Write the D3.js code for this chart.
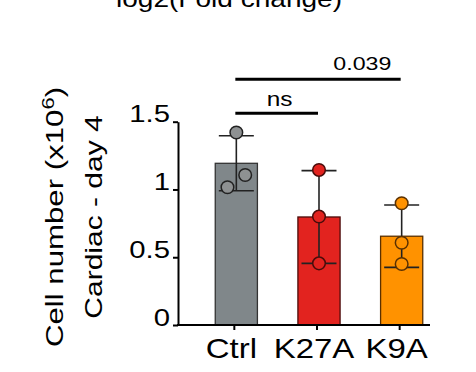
<!DOCTYPE html>
<html>
<head>
<meta charset="utf-8">
<script src="https://cdn.jsdelivr.net/npm/d3@7"></script>
<style>
  body { margin: 0; background: #fff; }
  text { font-family: "Liberation Sans", Arial, sans-serif; fill: #000; }
</style>
</head>
<body>
<div id="chart"></div>
<script>
// data
const groups = ["Ctrl", "K27A", "K9A"];
const means = [1.193, 0.797, 0.655];
const sds = [0.203, 0.342, 0.23];
const ctrlPts = [1.42, 1.107, 1.016];
const k27aPts = [1.144, 0.80, 0.455];
const k9aPts = [0.898, 0.607, 0.45];
const yTicks = [0, 0.5, 1, 1.5];
const yTickLabels = ["0", "0.5", "1", "1.5"];
const comparisons = [
  {from: "Ctrl", to: "K27A", label: "ns"},
  {from: "Ctrl", to: "K9A", label: "0.039"}
];

const fills = ["#80878a", "#e2231f", "#ff9200"];
const strokes = ["#333", "#4a0c0a", "#5a3000"];
const allPts = [ctrlPts, k27aPts, k9aPts];
// horizontal jitter of points, fraction of bar width
const jitter = [[0, 0.21, -0.21], [0, 0, 0], [0, 0, 0]];

const W = 476, H = 372;
const sx = 1.22; // text is drawn a bit wide

const svg = d3.select("#chart").append("svg")
  .attr("width", W)
  .attr("height", H);

// scales
const x = d3.scaleBand()
  .domain(groups)
  .range([195, 443])
  .paddingInner(0.49)
  .paddingOuter(0.245);

const y = d3.scaleLinear()
  .domain([0, 1.5])
  .range([325, 121.7]);

const axisX0 = 178, axisX1 = 430;
const cx = g => x(g) + x.bandwidth() / 2;

// title (cut off at the top, as in the source figure)
svg.append("text")
  .attr("transform", `translate(229,7) scale(${sx},1)`)
  .attr("text-anchor", "middle")
  .style("font-size", "23px")
  .text("log2(Fold change)");

// bars
svg.selectAll(".bar")
  .data(groups)
  .enter()
  .append("rect")
    .attr("x", d => x(d))
    .attr("y", (d, i) => y(means[i]))
    .attr("width", x.bandwidth())
    .attr("height", (d, i) => y(0) - y(means[i]))
    .attr("fill", (d, i) => fills[i])
    .attr("stroke", (d, i) => strokes[i])
    .attr("stroke-width", 1.3);

// error bars
const capHalf = 17.5;
groups.forEach(function(g, i) {
  const e = svg.append("g").attr("stroke", "#222").attr("stroke-width", 1.6);
  e.append("line")
    .attr("x1", cx(g)).attr("x2", cx(g))
    .attr("y1", y(means[i] - sds[i])).attr("y2", y(means[i] + sds[i]));
  [means[i] - sds[i], means[i] + sds[i]].forEach(function(v) {
    e.append("line")
      .attr("x1", cx(g) - capHalf).attr("x2", cx(g) + capHalf)
      .attr("y1", y(v)).attr("y2", y(v));
  });
});

// points
groups.forEach(function(g, i) {
  svg.selectAll(".pt" + i)
    .data(allPts[i])
    .enter()
    .append("circle")
      .attr("cx", (d, j) => cx(g) + jitter[i][j] * x.bandwidth())
      .attr("cy", d => y(d))
      .attr("r", 6.3)
      .attr("fill", i === 0 ? "#8e9192" : fills[i])
      .attr("stroke", i === 0 ? "#222" : strokes[i])
      .attr("stroke-width", 1.5);
});

// y axis
const yAxis = svg.append("g")
  .attr("transform", `translate(${axisX0},0)`)
  .call(d3.axisLeft(y).tickValues(yTicks).tickFormat((d, i) => yTickLabels[i]).tickSize(5).tickSizeOuter(0));
yAxis.select(".domain").attr("stroke-width", 2);
yAxis.selectAll(".tick line").attr("stroke-width", 2);
yAxis.selectAll(".tick text")
  .attr("x", null).attr("dy", null)
  .attr("transform", `translate(-8,0) scale(${sx},1)`)
  .style("font-size", "24px")
  .style("font-family", "'Liberation Sans', Arial, sans-serif");

// x axis
svg.append("line")
  .attr("x1", axisX0 - 1).attr("x2", axisX1)
  .attr("y1", y(0)).attr("y2", y(0))
  .attr("stroke", "#000").attr("stroke-width", 2);
const xAxis = svg.append("g")
  .attr("transform", `translate(-2,${y(0)})`)
  .call(d3.axisBottom(x).tickSize(5).tickSizeOuter(0));
xAxis.select(".domain").remove();
xAxis.selectAll(".tick line").attr("stroke-width", 2);
xAxis.selectAll(".tick text")
  .attr("y", null).attr("dy", null)
  .attr("transform", `translate(-3,32.5) scale(${sx},1)`)
  .style("font-size", "27px")
  .style("font-family", "'Liberation Sans', Arial, sans-serif");

// y label
const ylab = svg.append("g").attr("transform", "translate(0,217) rotate(-90)");
const l1 = ylab.append("text")
  .attr("transform", `translate(0,63) scale(1.3,1)`)
  .attr("text-anchor", "middle")
  .style("font-size", "24px");
l1.append("tspan").text("Cell number (x10");
l1.append("tspan").attr("dy", -9).style("font-size", "17px").text("6");
l1.append("tspan").attr("dy", 9).text(")");
ylab.append("text")
  .attr("transform", `translate(0,102) scale(1.25,1)`)
  .attr("text-anchor", "middle")
  .style("font-size", "24px")
  .text("Cardiac - day 4");

// significance
const sigY = [113.3, 79.3];
comparisons.forEach(function(c, i) {
  svg.append("line")
    .attr("x1", cx(c.from) - 1).attr("x2", cx(c.to) - 1)
    .attr("y1", sigY[i]).attr("y2", sigY[i])
    .attr("stroke", "#000").attr("stroke-width", 3);
});
svg.append("text")
  .attr("transform", `translate(${(cx("Ctrl") + cx("K27A")) / 2 + 2},${sigY[0] - 7}) scale(${sx},1)`)
  .attr("text-anchor", "middle")
  .style("font-size", "20px")
  .text(comparisons[0].label);
svg.append("text")
  .attr("transform", `translate(${(cx("K27A") + cx("K9A")) / 2 + 2},${sigY[1] - 9}) scale(${sx},1)`)
  .attr("text-anchor", "middle")
  .style("font-size", "19px")
  .text(comparisons[1].label);
</script>
</body>
</html>
